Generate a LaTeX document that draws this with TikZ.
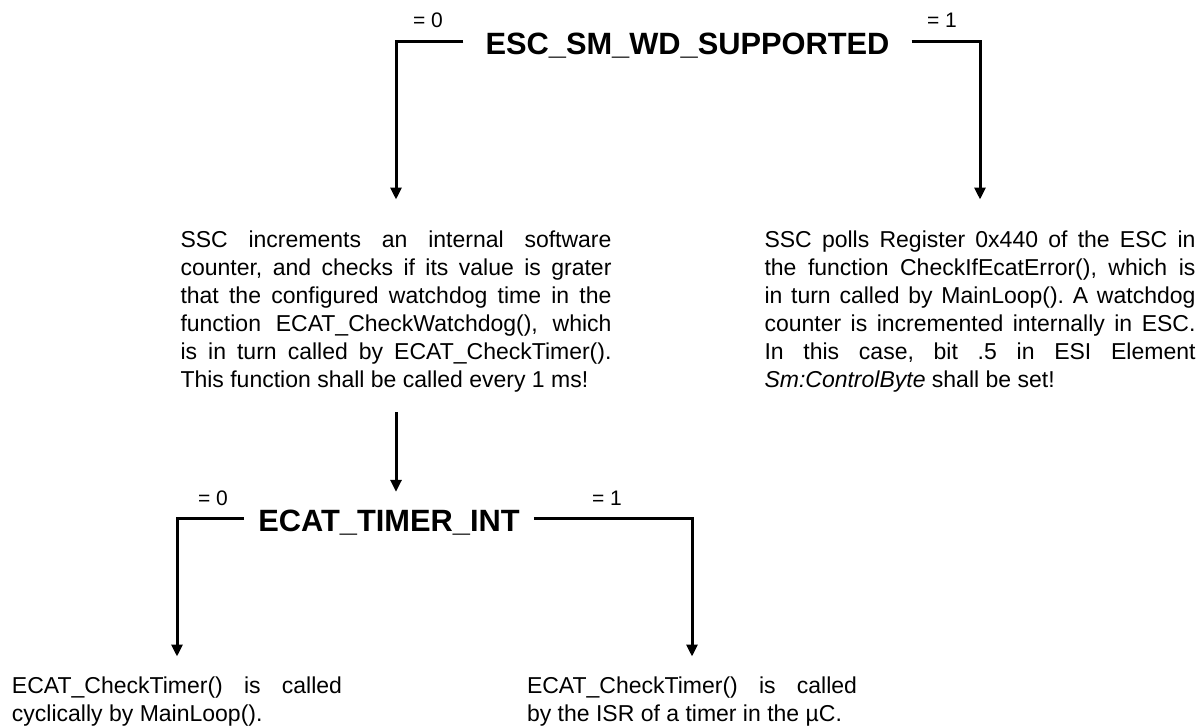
\documentclass[tikz,border=0pt]{standalone}
\usepackage{fontspec}
\setmainfont{Liberation Sans}
\usetikzlibrary{calc,arrows.meta}
\tolerance=9999
\hyphenpenalty=10000

\tikzset{
	flag/.style={font=\fontsize{30.8pt}{36pt}\selectfont\bfseries, inner ysep=0pt, text height=26pt, text depth=0pt},
	val/.style={font=\fontsize{21pt}{25pt}\selectfont, inner sep=0pt},
	body/.style={font=\fontsize{23pt}{28pt}\selectfont, align=justify, inner sep=0pt},
	branch/.style={line width=3pt, -{Triangle[length=12pt,width=11pt]}},
}

\begin{document}
\frenchspacing
\begin{tikzpicture}[x=1pt, y=-1pt]
					\useasboundingbox (0,0) rectangle (1202,726);

					\node[flag, inner xsep=22pt, anchor=base] (wdflag) at (687.5, 54) {ESC\_SM\_WD\_SUPPORTED};
					\node[val, anchor=base] (wdzero) at (428, 27) {= 0};
					\node[val, anchor=base] (wdone) at (942, 27) {= 1};

					\node[body, text width=431pt, anchor=north] (swtext) at (396, 230.5) {SSC increments an internal software\linebreak
						counter, and checks if its value is grater\linebreak
						that the configured watchdog time in the\linebreak
						function ECAT\_CheckWatchdog(), which\linebreak
						is in turn called by ECAT\_CheckTimer().\linebreak
						This function shall be called every 1 ms!};
					\node[body, text width=431pt, anchor=north] (hwtext) at (980, 230.5) {SSC polls Register 0x440 of the ESC in\linebreak
						the function CheckIfEcatError(), which is\linebreak
						in turn called by MainLoop(). A watchdog\linebreak
						counter is incremented internally in ESC.\linebreak
						In this case, bit .5 in ESI Element\linebreak
						\textit{Sm:ControlByte} shall be set!};

					\node[flag, inner xsep=14pt, anchor=base] (timerflag) at (389, 531) {ECAT\_TIMER\_INT};
					\node[val, anchor=base] (timerzero) at (213, 505) {= 0};
					\node[val, anchor=base] (timerone) at (607, 505) {= 1};

					\node[body, text width=330pt, anchor=north] (mltext) at (177, 676.5) {ECAT\_CheckTimer() is called\linebreak
						cyclically by MainLoop().};
					\node[body, text width=330pt, anchor=north] (isrtext) at (692, 676.5) {ECAT\_CheckTimer() is called\linebreak
						by the ISR of a timer in the µC.};

					\draw[branch, shorten >=31pt] (wdflag.west) -| (swtext.north);
					\draw[branch, shorten >=31pt] (wdflag.east) -| (hwtext.north);
					\draw[branch, shorten <=20pt, shorten >=13pt] (swtext.south) -- (swtext.south |- timerflag.north);
					%\draw[branch] (swtext.south) -- (timerflag.north);

					\draw[branch, shorten >=20pt] (timerflag.west) -| (mltext.north);
					\draw[branch, shorten >=20pt] (timerflag.east) -| (isrtext.north);
				\end{tikzpicture}
\end{document}
